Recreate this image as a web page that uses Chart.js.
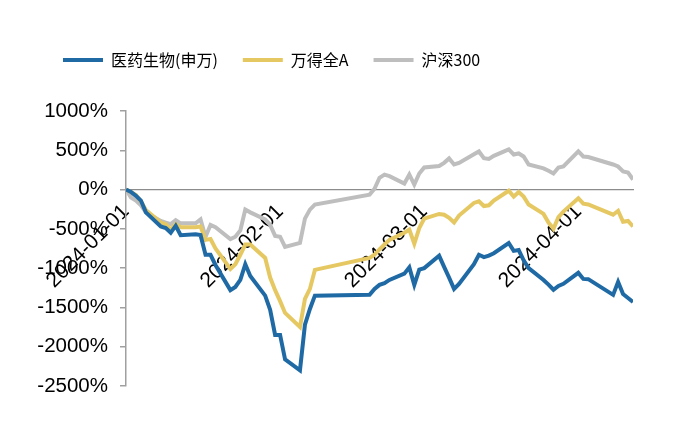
<!DOCTYPE html>
<html>
<head>
<meta charset="utf-8">
<script src="https://cdn.jsdelivr.net/npm/chart.js@4.4.1/dist/chart.umd.min.js"></script>
<style>
  html, body { margin: 0; padding: 0; background: #fff; }
</style>
</head>
<body>
<canvas id="myChart" width="686" height="432"></canvas>
<script>
var baseDate = '2024-01-01';

var dates = [
  '2024-01-01','2024-01-02','2024-01-03','2024-01-04','2024-01-05',
  '2024-01-08','2024-01-09','2024-01-10','2024-01-11','2024-01-12',
  '2024-01-15','2024-01-16','2024-01-17','2024-01-18','2024-01-19',
  '2024-01-22','2024-01-23','2024-01-24','2024-01-25','2024-01-26',
  '2024-01-29','2024-01-30','2024-01-31','2024-02-01','2024-02-02',
  '2024-02-05','2024-02-06','2024-02-07','2024-02-08',
  '2024-02-19','2024-02-20','2024-02-21','2024-02-22','2024-02-23',
  '2024-02-26','2024-02-27','2024-02-28','2024-02-29','2024-03-01',
  '2024-03-04','2024-03-05','2024-03-06','2024-03-07','2024-03-08',
  '2024-03-11','2024-03-12','2024-03-13','2024-03-14','2024-03-15',
  '2024-03-18','2024-03-19','2024-03-20','2024-03-21','2024-03-22',
  '2024-03-25','2024-03-26','2024-03-27','2024-03-28','2024-03-29',
  '2024-04-01','2024-04-02','2024-04-03',
  '2024-04-08','2024-04-09','2024-04-10','2024-04-11','2024-04-12'
];

// 医药生物(申万)
var pharma = [
  0, -30, -80, -140, -290,
  -470, -490, -550, -460, -580,
  -570, -580, -830, -830, -960,
  -1280, -1240, -1150, -950, -1100,
  -1350, -1530, -1850, -1850, -2160,
  -2300, -1720, -1520, -1350,
  -1340, -1264, -1213, -1190, -1150,
  -1070, -990, -1213, -1020, -1000,
  -843, -983, -1120, -1264, -1200,
  -950, -830, -860, -840, -810,
  -680, -780, -770, -900, -1000,
  -1150, -1210, -1275, -1226, -1200,
  -1060, -1137, -1140,
  -1340, -1175, -1330, -1380, -1430
];

// 万得全A
var windA = [
  0, -30, -70, -150, -260,
  -420, -440, -510, -440, -480,
  -480, -470, -640, -630, -750,
  -1010, -950, -830, -700, -700,
  -870, -1120, -1280, -1420, -1570,
  -1750, -1392, -1264, -1022,
  -870, -830, -760, -700, -640,
  -550, -510, -690, -490, -370,
  -310, -320, -360, -420, -330,
  -170, -150, -210, -200, -140,
  -15, -90, -30, -90, -190,
  -310, -420, -500, -350, -280,
  -110, -180, -190,
  -320, -270, -410, -400, -470
];

// 沪深300
var hs300 = [
  0, -100, -140, -200, -290,
  -400, -420, -440, -390, -430,
  -430, -380, -600, -450, -480,
  -630, -600, -520, -255, -290,
  -380, -450, -590, -600, -730,
  -680, -370, -255, -192,
  -64, 10, 150, 190, 170,
  77, 192, 64, 204, 281,
  300, 340, 396, 319, 340,
  450, 485, 400, 390, 430,
  511, 447, 460, 421, 319,
  270, 240, 204, 280, 294,
  485, 421, 415,
  319, 294, 230, 217, 128
];

var tickDates = ['2024-01-01', '2024-02-01', '2024-03-01', '2024-04-01'];

function dayOf(s) {
  return Math.round((Date.parse(s) - Date.parse(baseDate)) / 86400000);
}
function points(vals) {
  return dates.map(function (d, i) { return { x: dayOf(d), y: vals[i] }; });
}

var fontFamily = "'Liberation Sans', Arial, sans-serif";

// push the plot down below the legend and move the legend to the left like the original
var legendSpacing = {
  id: 'legendSpacing',
  beforeInit: function (chart) {
    var fit = chart.legend.fit;
    chart.legend.fit = function () {
      fit.call(this);
      this.height += 33;
    };
  },
  afterLayout: function (chart) {
    chart.legend.left = 38;
  }
};

var ctx = document.getElementById('myChart').getContext('2d');
var chart = new Chart(ctx, {
  type: 'line',
  data: {
    datasets: [{
      label: '医药生物(申万)',
      data: points(pharma),
      borderColor: 'rgb(31,106,165)',
      backgroundColor: 'rgb(31,106,165)',
      borderWidth: 4,
      pointRadius: 0,
      pointStyle: 'line'
    }, {
      label: '万得全A',
      data: points(windA),
      borderColor: 'rgb(230,200,98)',
      backgroundColor: 'rgb(230,200,98)',
      borderWidth: 4,
      pointRadius: 0,
      pointStyle: 'line'
    }, {
      label: '沪深300',
      data: points(hs300),
      borderColor: 'rgb(190,190,190)',
      backgroundColor: 'rgb(190,190,190)',
      borderWidth: 4,
      pointRadius: 0,
      pointStyle: 'line'
    }]
  },
  plugins: [legendSpacing],
  options: {
    responsive: false,
    animation: false,
    layout: { padding: { left: 0, right: 53, top: 27, bottom: 46 } },
    plugins: {
      tooltip: { enabled: false },
      legend: {
        position: 'top',
        align: 'start',
        labels: {
          usePointStyle: true,
          pointStyleWidth: 40,
          padding: 25,
          color: '#000',
          font: { family: "'Noto Sans CJK SC', sans-serif", size: 16 }
        }
      }
    },
    scales: {
      x: {
        type: 'linear',
        position: { y: 0 },
        min: 0,
        max: dayOf(dates[dates.length - 1]),
        border: { display: true, color: '#8c8c8c', width: 1.2 },
        grid: { display: false, drawTicks: false },
        afterBuildTicks: function (scale) {
          scale.ticks = tickDates.map(function (d) { return { value: dayOf(d) }; });
        },
        ticks: {
          autoSkip: false,
          minRotation: 45,
          maxRotation: 45,
          padding: 10,
          color: '#000',
          font: { family: fontFamily, size: 21 },
          callback: function (v) {
            for (var i = 0; i < tickDates.length; i++) {
              if (dayOf(tickDates[i]) === v) return tickDates[i];
            }
            return '';
          }
        }
      },
      y: {
        min: -2500,
        max: 1000,
        afterFit: function (scale) { scale.width = 126; },
        border: { display: true, color: '#a0a0a0', width: 1.5 },
        grid: { drawOnChartArea: false, drawTicks: true, tickLength: 6, color: '#a0a0a0', lineWidth: 1.5 },
        ticks: {
          stepSize: 500,
          padding: 12,
          color: '#000',
          font: { family: fontFamily, size: 20.5 },
          callback: function (v) { return v + '%'; }
        }
      }
    }
  }
});
</script>
</body>
</html>
